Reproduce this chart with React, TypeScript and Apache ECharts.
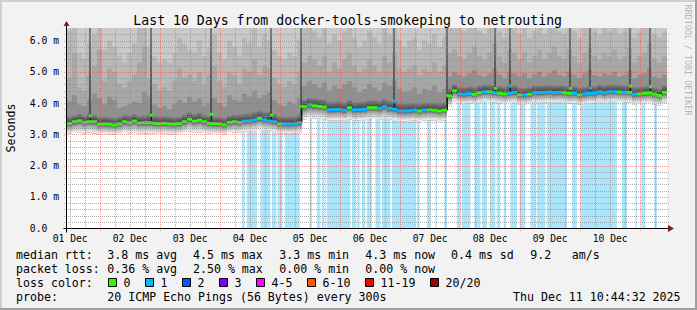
import React, { useEffect, useRef } from "react";
import * as echarts from "echarts";

const MONO = '"DejaVu Sans Mono", monospace';

// time axis: hours since 01 Dec 00:00
const START_H = 10 + 44 / 60 + 32 / 3600;
const SPAN_H = 240;
const BIN_H = 2;
const Y_MAX = 6.4;

const titleText = "Last 10 Days from docker-tools-smokeping to netrouting";
const dayLabels = ["01 Dec", "02 Dec", "03 Dec", "04 Dec", "05 Dec", "06 Dec", "07 Dec", "08 Dec", "09 Dec", "10 Dec"];

// median rtt per 2h bin (ms)
const medianRtt = [
  3.34, 3.40, 3.43, 3.38, 3.40, 3.40, 3.32, 3.33, 3.32, 3.30,
  3.33, 3.40, 3.37, 3.42, 3.36, 3.37, 3.37, 3.35, 3.34, 3.35,
  3.33, 3.32, 3.34, 3.40, 3.48, 3.42, 3.45, 3.40, 3.35, 3.34,
  3.33, 3.30, 3.38, 3.40, 3.38, 3.42, 3.43, 3.46, 3.51, 3.46,
  3.42, 3.40, 3.33, 3.33, 3.32, 3.33, 3.37, 3.88, 3.94, 3.91,
  3.89, 3.87, 3.78, 3.79, 3.80, 3.77, 3.85, 3.78, 3.79, 3.80,
  3.85, 3.85, 3.83, 3.88, 3.83, 3.80, 3.75, 3.74, 3.75, 3.77,
  3.74, 3.77, 3.78, 3.77, 3.74, 3.77, 4.23, 4.39, 4.29, 4.28,
  4.30, 4.28, 4.33, 4.36, 4.36, 4.33, 4.31, 4.29, 4.31, 4.34,
  4.26, 4.26, 4.28, 4.33, 4.33, 4.34, 4.35, 4.33, 4.34, 4.33,
  4.31, 4.31, 4.26, 4.29, 4.31, 4.31, 4.36, 4.33, 4.36, 4.36,
  4.35, 4.34, 4.34, 4.28, 4.29, 4.31, 4.32, 4.28, 4.24, 4.34,
];

// lost pings of 20 per bin (median colour)
const medianLoss = [
  0, 0, 0, 0, 0, 0, 0, 0, 0, 0,
  0, 0, 0, 0, 0, 0, 0, 0, 0, 0,
  0, 0, 0, 0, 0, 0, 0, 0, 0, 0,
  0, 0, 0, 0, 0, 1, 1, 1, 0, 1,
  1, 1, 0, 1, 1, 1, 1, 0, 1, 0,
  0, 0, 1, 1, 1, 1, 0, 1, 1, 1,
  0, 0, 1, 1, 1, 1, 1, 1, 1, 1,
  0, 1, 0, 0, 0, 0, 0, 0, 1, 1,
  1, 0, 0, 1, 0, 1, 0, 0, 1, 1,
  0, 1, 0, 1, 1, 1, 1, 1, 1, 0,
  0, 1, 0, 1, 1, 1, 1, 1, 1, 1,
  0, 1, 0, 1, 0, 0, 0, 0, 0, 0,
];

// smoke: fastest ping per bin
const smokeMin = [
  3.02, 3.04, 3.05, 3.03, 3.06, 3.03, 3.00, 3.01, 3.00, 2.99,
  3.01, 3.04, 3.03, 3.05, 3.02, 3.03, 3.03, 3.02, 3.01, 3.02,
  3.00, 3.00, 3.01, 3.04, 3.08, 3.05, 3.06, 3.04, 3.02, 3.01,
  3.01, 2.99, 3.04, 3.06, 3.05, 3.08, 3.10, 3.11, 3.14, 3.12,
  3.12, 3.08, 3.03, 3.03, 3.02, 3.03, 3.05, 3.48, 3.52, 3.50,
  3.50, 3.48, 3.44, 3.45, 3.46, 3.44, 3.48, 3.44, 3.45, 3.46,
  3.48, 3.49, 3.47, 3.50, 3.47, 3.46, 3.42, 3.42, 3.43, 3.44,
  3.42, 3.44, 3.45, 3.44, 3.42, 3.44, 3.90, 4.04, 3.98, 3.97,
  3.99, 3.97, 4.01, 4.04, 4.03, 4.02, 3.99, 3.97, 4.00, 4.01,
  3.95, 3.95, 3.97, 4.01, 4.01, 4.02, 4.03, 4.01, 4.02, 4.01,
  3.98, 3.99, 3.95, 3.97, 4.00, 3.99, 4.04, 4.01, 4.04, 4.04,
  4.03, 4.02, 4.02, 3.96, 3.97, 3.98, 4.00, 3.96, 3.93, 4.02,
];

// smoke: upper ping levels per bin (dark, mid-dark, mid, light)
const smokeQ1 = [
  3.56, 3.60, 3.64, 3.60, 3.66, 3.62, 3.55, 3.56, 3.54, 3.52,
  3.55, 3.62, 3.60, 3.64, 3.58, 3.60, 3.62, 3.58, 3.56, 3.57,
  3.55, 3.54, 3.56, 3.63, 3.70, 3.64, 3.68, 3.62, 3.58, 3.56,
  3.55, 3.52, 3.60, 3.62, 3.62, 3.64, 3.66, 3.70, 3.74, 3.70,
  3.72, 3.64, 3.56, 3.55, 3.55, 3.56, 3.62, 4.10, 4.16, 4.14,
  4.12, 4.10, 4.02, 4.03, 4.04, 4.00, 4.08, 4.02, 4.03, 4.04,
  4.08, 4.08, 4.06, 4.12, 4.06, 4.05, 3.98, 3.97, 3.98, 4.00,
  3.97, 4.00, 4.01, 4.00, 3.98, 4.01, 4.46, 4.60, 4.50, 4.50,
  4.52, 4.50, 4.55, 4.58, 4.58, 4.56, 4.53, 4.51, 4.56, 4.56,
  4.48, 4.48, 4.50, 4.55, 4.55, 4.56, 4.57, 4.55, 4.56, 4.55,
  4.52, 4.53, 4.48, 4.51, 4.55, 4.53, 4.58, 4.55, 4.58, 4.58,
  4.57, 4.56, 4.58, 4.50, 4.51, 4.53, 4.56, 4.50, 4.46, 4.56,
];
const smokeQ2 = [
  4.05, 4.25, 3.95, 3.90, 4.10, 4.30, 4.15, 3.95, 4.20, 4.10,
  3.85, 3.90, 3.95, 4.05, 4.00, 4.35, 4.20, 3.95, 3.85, 3.90,
  3.80, 3.95, 4.10, 4.00, 4.20, 4.05, 4.15, 3.90, 4.00, 4.15,
  4.00, 3.90, 4.25, 4.10, 4.05, 4.30, 4.20, 4.40, 4.15, 4.25,
  4.35, 4.10, 3.95, 3.90, 4.05, 3.95, 4.15, 4.55, 4.70, 4.60,
  4.50, 4.65, 4.40, 4.55, 4.45, 4.60, 4.70, 4.50, 4.35, 4.45,
  4.60, 4.50, 4.40, 4.65, 4.55, 4.70, 4.45, 4.35, 4.40, 4.50,
  4.30, 4.45, 4.40, 4.55, 4.35, 4.45, 4.85, 5.00, 4.90, 4.85,
  4.95, 5.05, 4.90, 4.85, 4.95, 5.10, 4.90, 4.80, 5.00, 4.95,
  4.85, 4.95, 4.80, 4.90, 5.00, 4.85, 4.95, 5.05, 4.90, 4.85,
  5.00, 4.90, 4.80, 4.95, 5.05, 4.90, 4.85, 4.95, 4.90, 5.00,
  4.85, 4.90, 5.05, 4.80, 4.90, 4.95, 5.10, 4.85, 4.80, 4.90,
];
const smokeQ3 = [
  4.80, 5.60, 4.50, 4.40, 4.90, 5.20, 5.70, 4.70, 5.10, 5.00,
  4.60, 4.50, 4.70, 4.90, 5.30, 5.80, 4.80, 4.60, 4.40, 4.50,
  4.40, 4.70, 5.10, 4.80, 4.90, 4.70, 5.00, 4.60, 4.90, 5.20,
  4.70, 4.50, 5.00, 4.90, 4.60, 5.10, 5.00, 5.40, 4.90, 5.20,
  5.10, 4.80, 4.60, 4.50, 4.70, 4.60, 5.00, 5.30, 5.50, 5.40,
  5.20, 5.50, 5.00, 5.30, 5.10, 5.40, 5.60, 5.20, 5.00, 5.10,
  5.40, 5.20, 5.00, 5.50, 5.30, 5.60, 5.10, 5.00, 5.10, 5.20,
  4.90, 5.10, 5.00, 5.30, 5.00, 5.20, 5.60, 5.70, 5.50, 5.40,
  5.60, 5.80, 5.50, 5.40, 5.60, 5.90, 5.50, 5.30, 5.70, 5.60,
  5.40, 5.60, 5.30, 5.50, 5.70, 5.40, 5.60, 5.80, 5.50, 5.40,
  5.70, 5.50, 5.30, 5.60, 5.80, 5.50, 5.40, 5.60, 5.50, 5.70,
  5.40, 5.50, 5.80, 5.30, 5.50, 5.60, 5.90, 5.40, 5.30, 5.50,
];
const smokeQ4 = [
  6.30, 6.40, 5.60, 5.40, 5.90, 6.20, 6.40, 5.70, 6.00, 5.80,
  5.50, 5.30, 5.60, 5.90, 6.40, 6.40, 5.80, 5.50, 5.30, 5.40,
  5.30, 5.60, 6.10, 5.90, 5.70, 5.60, 6.00, 5.50, 5.80, 6.20,
  5.60, 5.40, 6.00, 5.80, 5.50, 6.10, 5.90, 6.40, 5.80, 6.20,
  6.00, 5.70, 5.50, 5.40, 5.60, 5.50, 6.00, 6.40, 6.40, 6.30,
  6.10, 6.40, 5.90, 6.20, 6.00, 6.30, 6.40, 6.10, 5.80, 6.00,
  6.30, 6.10, 5.90, 6.40, 6.20, 6.40, 6.00, 5.80, 6.00, 6.10,
  5.70, 6.00, 5.90, 6.20, 5.80, 6.10, 6.40, 6.40, 6.40, 6.30,
  6.40, 6.40, 6.30, 6.20, 6.40, 6.40, 6.30, 6.10, 6.40, 6.40,
  6.20, 6.40, 6.10, 6.30, 6.40, 6.20, 6.40, 6.40, 6.30, 6.20,
  6.40, 6.30, 6.10, 6.40, 6.40, 6.30, 6.20, 6.40, 6.30, 6.40,
  6.20, 6.30, 6.40, 6.10, 6.30, 6.40, 6.40, 6.20, 6.10, 6.30,
];

// periods with packet loss [from, to] in hours since 01 Dec 00:00
const lossPeriods = [
  [80.7, 81.8], [82.7, 86.7], [88.1, 92.1], [92.7, 94.5], [95.0, 97.0], [97.8, 103.8],
  [107.8, 108.7], [110.7, 112.1], [112.7, 113.7], [114.7, 124.1], [124.7, 126.1],
  [126.7, 127.8], [128.7, 130.1], [130.7, 132.7], [134.1, 136.1], [136.7, 140.1],
  [140.7, 150.1], [150.7, 151.8], [154.7, 156.1], [158.1, 158.7], [161.7, 162.7],
  [166.7, 168.1], [168.7, 172.1], [173.7, 176.1], [176.7, 178.7], [180.1, 182.1],
  [182.7, 184.1], [185.4, 186.1], [188.1, 190.7], [191.8, 194.1], [196.1, 198.1],
  [198.7, 202.1], [202.7, 210.7], [212.7, 214.7], [216.1, 230.7], [232.7, 234.7],
  [238.1, 238.7], [240.5, 242.1], [245.7, 246.7],
];

// short latency spikes [hour, median peak, lost pings]
const spikes = [
  [19.9, 3.59, 0], [44.3, 3.61, 0], [68.3, 3.64, 0], [92.3, 3.61, 0], [104.2, 3.88, 0],
  [141.5, 4.06, 1], [162.6, 4.23, 0], [181.9, 4.47, 0], [187.9, 4.54, 1], [211.9, 4.47, 0],
  [219.9, 4.48, 1], [235.9, 4.54, 0], [243.9, 4.52, 0],
];

const lossColors = ["#26ff00", "#00b8ff", "#0059ff", "#7e00ff", "#ff00ff", "#ff5500", "#ff0000", "#a10000"];
const lossLabels = ["0", "1", "2", "3", "4-5", "6-10", "11-19", "20/20"];
const rttStats = ["3.8 ms avg", "4.5 ms max", "3.3 ms min", "4.3 ms now", "0.4 ms sd", "9.2", "am/s"];
const lossStats = ["0.36 % avg", "2.50 % max", "0.00 % min", "0.00 % now"];
const probeText = "20 ICMP Echo Pings (56 Bytes) every 300s";
const dateText = "Thu Dec 11 10:44:32 2025";

// layout
const rttX = [107.3, 193, 279.3, 365.3, 451, 530.3, 571.7];
const lossX = [107.3, 193, 279.3, 365.3];
const boxX = [108.5, 145.5, 182.5, 219.5, 256.5, 307.5, 365.5, 430.5];
const rowY = [254.8, 268.8, 282.8, 296.8];
const LOSS_BG = "#aae6fb";
const GRID_MINOR = "rgba(143,143,143,0.7)";
const GRID_MAJOR = "rgba(222,79,79,0.55)";
const ARROW = "#801f1f";

export default function App() {
  const ref = useRef<HTMLDivElement>(null);

  useEffect(() => {
    if (!ref.current) return;
    const chart = echarts.init(ref.current, null, { renderer: "svg" });
    const END_H = START_H + SPAN_H;

    const smokeRender = (params: any, api: any) => {
      const i = params.dataIndex;
      const t0 = START_H + i * BIN_H;
      const t1 = t0 + BIN_H;
      const x0 = api.coord([t0, 0])[0];
      const x1 = api.coord([t1, 0])[0];
      const w = x1 - x0;
      const y = (v: number) => api.coord([t0, Math.min(v, Y_MAX)])[1];
      const rect = (lo: number, hi: number, fill: any) => ({
        type: "rect",
        shape: { x: x0, y: y(hi), width: w, height: y(lo) - y(hi) },
        style: { fill },
      });
      return {
        type: "group",
        children: [
          rect(smokeMin[i], Y_MAX, "#c9c9c9"),
          rect(smokeMin[i], smokeQ4[i], "#b8b8b8"),
          rect(smokeMin[i], smokeQ3[i], "#a7a7a7"),
          rect(smokeMin[i], smokeQ2[i], "#8f8f8f"),
          rect(
            medianRtt[i],
            smokeQ1[i],
            new echarts.graphic.LinearGradient(0, 0, 0, 1, [
              { offset: 0, color: "#7e7e7e" },
              { offset: 1, color: "#3c3c3c" },
            ])
          ),
          rect(
            smokeMin[i],
            medianRtt[i],
            new echarts.graphic.LinearGradient(0, 0, 0, 1, [
              { offset: 0, color: "#3c3c3c" },
              { offset: 0.35, color: "#9c9c9c" },
              { offset: 1, color: "#f6f6f6" },
            ])
          ),
        ],
      };
    };

    const lossRender = (params: any, api: any) => {
      const a = api.coord([api.value(0), 0]);
      const b = api.coord([api.value(1), Y_MAX]);
      return {
        type: "rect",
        shape: { x: a[0], y: b[1], width: b[0] - a[0], height: a[1] - b[1] },
        style: { fill: LOSS_BG },
      };
    };

    const spikeRender = (params: any, api: any) => {
      const h = api.value(0);
      const peak = api.value(1);
      const loss = api.value(2);
      const idx = Math.min(medianRtt.length - 1, Math.floor((h - START_H) / BIN_H));
      const base = medianRtt[idx];
      const xc = Math.round(api.coord([h, 0])[0]);
      const yTop = api.coord([h, Y_MAX])[1];
      const yBase = api.coord([h, base])[1];
      const yPeak = api.coord([h, peak])[1];
      return {
        type: "group",
        children: [
          {
            type: "rect",
            shape: { x: xc - 1, y: yTop, width: 2, height: Math.max(yBase, yPeak) - yTop },
            style: {
              fill: new echarts.graphic.LinearGradient(0, 0, 0, 1, [
                { offset: 0, color: "#7a7a7a" },
                { offset: 1, color: "#484848" },
              ]),
            },
          },
          {
            type: "line",
            shape: { x1: xc + 0.5, y1: yBase, x2: xc + 0.5, y2: yPeak },
            style: { stroke: "#1a1a1a", lineWidth: 1 },
          },
          {
            type: "rect",
            shape: { x: xc - 1, y: yPeak - 1.5, width: 3, height: 3 },
            style: { fill: lossColors[loss] },
          },
        ],
      };
    };

    const markRender = (params: any, api: any) => {
      const i = params.dataIndex;
      const t0 = START_H + i * BIN_H;
      const x0 = api.coord([t0, 0])[0];
      const x1 = api.coord([t0 + BIN_H, 0])[0];
      const ym = api.coord([t0, medianRtt[i]])[1];
      return {
        type: "rect",
        shape: { x: x0, y: ym - 1.5, width: x1 - x0, height: 3 },
        style: { fill: lossColors[medianLoss[i]] },
      };
    };

    // grid line positions: [orientation, value, major]
    const gridData: number[][] = [];
    for (let h = 6 * Math.ceil(START_H / 6); h < END_H; h += 6) gridData.push([0, h, h % 24 === 0 ? 1 : 0]);
    for (let k = 1; k * 0.2 < Y_MAX - 0.01; k++) gridData.push([1, Math.round(k * 2) / 10, k % 5 === 0 ? 1 : 0]);

    const gridRender = (params: any, api: any) => {
      const vertical = api.value(0) === 0;
      const v = api.value(1);
      const major = api.value(2) === 1;
      const style = { stroke: major ? GRID_MAJOR : GRID_MINOR, lineWidth: 1, lineDash: [1, 1] };
      if (vertical) {
        const x = Math.round(api.coord([v, 0])[0]) + 0.5;
        const yb = api.coord([v, 0])[1];
        const yt = api.coord([v, Y_MAX])[1];
        return { type: "line", shape: { x1: x, y1: yt, x2: x, y2: yb + (major ? 3 : 0) }, style };
      }
      const y = Math.round(api.coord([START_H, v])[1]) + 0.5;
      const xl = api.coord([START_H, v])[0];
      const xr = api.coord([END_H, v])[0];
      return { type: "line", shape: { x1: xl - 3, y1: y, x2: xr + 2, y2: y }, style };
    };

    const frameRender = (params: any, api: any) => {
      const o = api.coord([START_H, 0]);
      const e = api.coord([END_H, 0]);
      const t = api.coord([START_H, Y_MAX]);
      const x0 = Math.round(o[0]) - 0.5;
      const y0 = Math.round(o[1]) + 0.5;
      const xe = Math.round(e[0]);
      const yt = Math.round(t[1]);
      return {
        type: "group",
        children: [
          { type: "line", shape: { x1: x0 - 3, y1: y0, x2: xe + 1, y2: y0 }, style: { stroke: "#000", lineWidth: 1 } },
          { type: "line", shape: { x1: x0, y1: y0 + 4, x2: x0, y2: yt - 2 }, style: { stroke: "#000", lineWidth: 1 } },
          {
            type: "polygon",
            shape: { points: [[xe + 1, y0 - 3.5], [xe + 7, y0], [xe + 1, y0 + 3.5]] },
            style: { fill: ARROW },
          },
          {
            type: "polygon",
            shape: { points: [[x0 - 3, yt - 2], [x0, yt - 7], [x0 + 3, yt - 2]] },
            style: { fill: ARROW },
          },
        ],
      };
    };

    const medianLine: number[][] = [];
    medianRtt.forEach((m, i) => {
      medianLine.push([START_H + i * BIN_H, m]);
      medianLine.push([START_H + (i + 1) * BIN_H, m]);
    });

    const binData = medianRtt.map((m, i) => [START_H + (i + 0.5) * BIN_H, m]);

    const textStyle = (text: string, extra: any = {}) => ({
      text,
      fill: "#000",
      fontSize: 11.6,
      fontFamily: MONO,
      verticalAlign: "middle",
      align: "left",
      ...extra,
    });

    const graphic: any[] = [
      { type: "rect", shape: { x: 0, y: 0, width: 697, height: 2 }, style: { fill: "#cfcfcf" }, silent: true },
      { type: "rect", shape: { x: 0, y: 0, width: 2, height: 310 }, style: { fill: "#cfcfcf" }, silent: true },
      { type: "rect", shape: { x: 0, y: 308, width: 697, height: 2 }, style: { fill: "#9e9e9e" }, silent: true },
      { type: "rect", shape: { x: 695, y: 0, width: 2, height: 310 }, style: { fill: "#9e9e9e" }, silent: true },
      {
        type: "text",
        x: 347.7,
        y: 20.3,
        style: textStyle(titleText, { fontSize: 13.2, align: "center" }),
        silent: true,
      },
      {
        type: "text",
        x: 10.5,
        y: 128,
        rotation: Math.PI / 2,
        style: textStyle("Seconds", { align: "center" }),
        silent: true,
      },
      {
        type: "text",
        x: 688,
        y: 60,
        rotation: -Math.PI / 2,
        style: textStyle("RRDTOOL / TOBI OETIKER", { align: "center", fontSize: 8.4, fill: "#b4b4b4" }),
        silent: true,
      },
      { type: "text", x: 16, y: rowY[0], style: textStyle("median rtt:"), silent: true },
      { type: "text", x: 16, y: rowY[1], style: textStyle("packet loss:"), silent: true },
      { type: "text", x: 16, y: rowY[2], style: textStyle("loss color:"), silent: true },
      { type: "text", x: 16, y: rowY[3], style: textStyle("probe:"), silent: true },
      { type: "text", x: 107.3, y: rowY[3], style: textStyle(probeText), silent: true },
      { type: "text", x: 513, y: rowY[3], style: textStyle(dateText), silent: true },
    ];
    rttStats.forEach((s, k) =>
      graphic.push({ type: "text", x: rttX[k], y: rowY[0], style: textStyle(s), silent: true })
    );
    lossStats.forEach((s, k) =>
      graphic.push({ type: "text", x: lossX[k], y: rowY[1], style: textStyle(s), silent: true })
    );
    lossLabels.forEach((s, k) => {
      graphic.push({
        type: "rect",
        shape: { x: boxX[k], y: 278.5, width: 8, height: 8 },
        style: { fill: lossColors[k], stroke: "#000", lineWidth: 1 },
        silent: true,
      });
      graphic.push({ type: "text", x: boxX[k] + 15, y: rowY[2], style: textStyle(s), silent: true });
    });

    const labelHours = dayLabels.map((_, k) => 12 + 24 * k);

    chart.setOption({
      animation: false,
      backgroundColor: "#f2f2f2",
      grid: {
        left: 67,
        top: 28,
        width: 600,
        height: 200,
        show: true,
        backgroundColor: "#ffffff",
        borderWidth: 0,
      },
      xAxis: {
        type: "value",
        min: START_H,
        max: END_H,
        axisLine: { show: false },
        axisTick: { show: false },
        splitLine: { show: false },
        axisLabel: {
          customValues: labelHours,
          formatter: (v: number) => dayLabels[Math.round((v - 12) / 24)] ?? "",
          margin: 5,
          fontFamily: MONO,
          fontSize: 9.7,
          color: "#000",
        },
      },
      yAxis: {
        type: "value",
        min: 0,
        max: Y_MAX,
        interval: 1,
        axisLine: { show: false },
        axisTick: { show: false },
        splitLine: { show: false },
        axisLabel: {
          showMaxLabel: false,
          formatter: (v: number) =>
            Math.abs(v - Math.round(v)) > 1e-6 ? "" : v === 0 ? "0.0\u00a0\u00a0" : v.toFixed(1) + " m",
          margin: 8,
          fontFamily: MONO,
          fontSize: 9.7,
          color: "#000",
        },
      },
      graphic,
      series: [
        { type: "custom", z: 1, silent: true, clip: true, data: lossPeriods, renderItem: lossRender },
        { type: "custom", z: 2, silent: true, clip: true, data: binData, renderItem: smokeRender },
        { type: "custom", z: 3, silent: true, clip: true, data: spikes, renderItem: spikeRender },
        {
          type: "line",
          z: 4,
          silent: true,
          data: medianLine,
          symbol: "none",
          lineStyle: { color: "#1a1a1a", width: 1 },
        },
        { type: "custom", z: 5, silent: true, clip: true, data: binData, renderItem: markRender },
        { type: "custom", z: 6, silent: true, clip: false, data: gridData, renderItem: gridRender },
        { type: "custom", z: 7, silent: true, clip: false, data: [[START_H, 0]], renderItem: frameRender },
      ],
    });

    return () => chart.dispose();
  }, []);

  return (
    <div
      ref={ref}
      style={{ position: "fixed", left: 0, top: 0, width: 697, height: 310 }}
    />
  );
}
